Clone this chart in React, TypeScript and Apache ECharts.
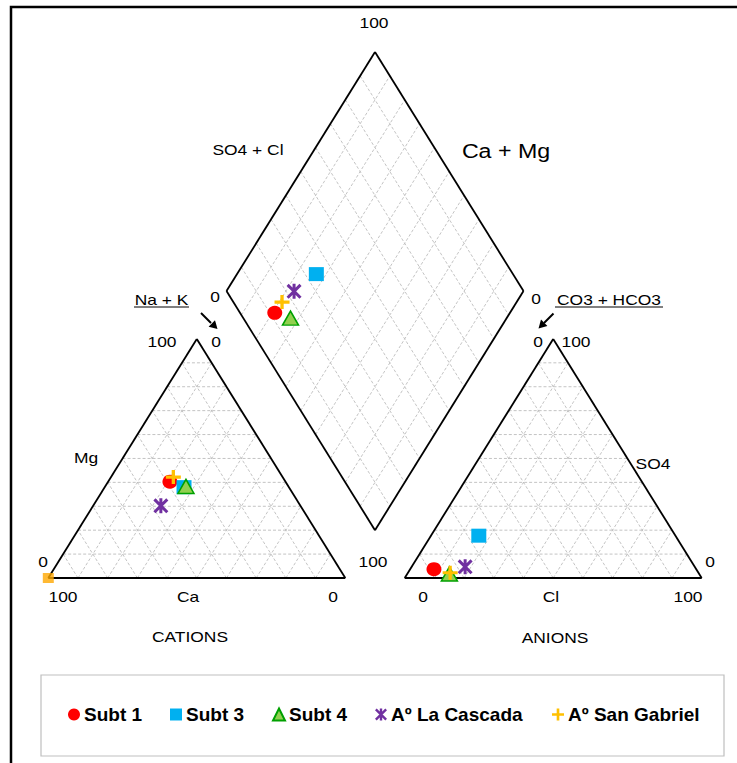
import React, { useEffect, useRef } from 'react';
import * as echarts from 'echarts';

// ---- data (percent of meq) ----
const sampleNames = ['Subt 1', 'Subt 3', 'Subt 4', 'Aº La Cascada', 'Aº San Gabriel'];
const caPct = [38.9, 35.3, 34.5, 47.0, 36.8];
const mgPct = [40.3, 38.0, 38.3, 30.2, 42.2];
const nakPct = [20.8, 26.7, 27.2, 22.8, 21.0];
const hco3Pct = [88.3, 66.2, 84.1, 77.3, 83.6];
const so4Pct = [3.7, 17.7, 1.7, 4.7, 2.2];
const clPct = [8.0, 16.1, 14.2, 18.0, 14.2];
// stray marker at the Ca corner [Ca, Mg, Na+K]
const cornerMarker = [100, 0, 0];
const gridSteps = [10, 20, 30, 40, 50, 60, 70, 80, 90];

const seriesColors = ['#FF0000', '#00B0F0', '#92D050', '#7030A0', '#FFC000'];

// ---- Piper geometry (100 = triangle side, gap 20) ----
const GAP = 20;
const H3 = Math.sqrt(3) / 2;
const cationXY = (ca: number, mg: number, nak: number) => [nak + mg / 2, mg * H3];
const anionXY = (hco3: number, so4: number, cl: number) => [100 + GAP + cl + so4 / 2, so4 * H3];
const diamondXY = (nak: number, hco3: number) => [
  (nak + 200 + GAP - hco3) / 2,
  (Math.sqrt(3) * (200 + GAP - hco3 - nak)) / 2,
];
const X_MAX = 200 + GAP;
const Y_MAX = Math.sqrt(3) * (100 + GAP / 2);

function seg(a: number[], b: number[]) {
  return [a[0], a[1], b[0], b[1]];
}

function buildOutline() {
  const s: number[][] = [];
  const c1 = cationXY(100, 0, 0), c2 = cationXY(0, 0, 100), c3 = cationXY(0, 100, 0);
  s.push(seg(c1, c2), seg(c2, c3), seg(c3, c1));
  const a1 = anionXY(100, 0, 0), a2 = anionXY(0, 0, 100), a3 = anionXY(0, 100, 0);
  s.push(seg(a1, a2), seg(a2, a3), seg(a3, a1));
  const B = diamondXY(100, 100), L = diamondXY(0, 100), T = diamondXY(0, 0), R = diamondXY(100, 0);
  s.push(seg(B, R), seg(R, T), seg(T, L), seg(L, B));
  return s;
}

function buildGrid() {
  const s: number[][] = [];
  gridSteps.forEach((k) => {
    // cation triangle
    s.push(seg(cationXY(100 - k, k, 0), cationXY(0, k, 100 - k)));
    s.push(seg(cationXY(k, 0, 100 - k), cationXY(k, 100 - k, 0)));
    s.push(seg(cationXY(100 - k, 0, k), cationXY(0, 100 - k, k)));
    // anion triangle
    s.push(seg(anionXY(100 - k, k, 0), anionXY(0, k, 100 - k)));
    s.push(seg(anionXY(k, 0, 100 - k), anionXY(k, 100 - k, 0)));
    s.push(seg(anionXY(100 - k, 0, k), anionXY(0, 100 - k, k)));
    // diamond
    s.push(seg(diamondXY(k, 100), diamondXY(k, 0)));
    s.push(seg(diamondXY(0, k), diamondXY(100, k)));
  });
  return s;
}

const symbols = [
  'circle',
  'rect',
  'triangle',
  'path://M40 0L60 0L60 100L40 100Z M14.1 0L100 85.9L85.9 100L0 14.1Z M85.9 0L100 14.1L14.1 100L0 85.9Z',
  'path://M39 0L61 0L61 39L100 39L100 61L61 61L61 100L39 100L39 61L0 61L0 39L39 39Z',
];
const symbolSizes: any[] = [[15, 14], [15, 14], [16, 14], [15, 15], [15, 14]];
const legendLeft = [68, 170, 272, 375, 552];

const FONT = 'Liberation Sans, Arial, sans-serif';
const SX = 1.16;

function txt(text: string, x: number, y: number, size = 15, extra: any = {}) {
  return {
    type: 'text',
    x,
    y,
    scaleX: SX,
    style: {
      text,
      fill: '#000',
      fontSize: size,
      fontFamily: FONT,
      align: 'center',
      verticalAlign: 'middle',
      ...extra,
    },
    z: 20,
  };
}

function lineG(x1: number, y1: number, x2: number, y2: number, w = 1) {
  return { type: 'line', shape: { x1, y1, x2, y2 }, style: { stroke: '#000', lineWidth: w }, z: 20 };
}

export default function App() {
  const ref = useRef<HTMLDivElement>(null);
  useEffect(() => {
    if (!ref.current) return;
    const chart = echarts.init(ref.current, undefined, { renderer: 'svg' });

    const lineRender = (color: string, width: number, dash: any) => (params: any, api: any) => {
      const p1 = api.coord([api.value(0), api.value(1)]);
      const p2 = api.coord([api.value(2), api.value(3)]);
      return {
        type: 'line',
        shape: { x1: p1[0], y1: p1[1], x2: p2[0], y2: p2[1] },
        style: { stroke: color, lineWidth: width, lineDash: dash, fill: 'none' },
      };
    };

    const scatterSeries = sampleNames.map((name, i) => ({
      type: 'scatter',
      name,
      symbol: symbols[i],
      symbolSize: symbolSizes[i],
      z: 10 + i,
      itemStyle:
        i === 2
          ? { color: seriesColors[i], borderColor: '#00A000', borderWidth: 1.5, opacity: 1 }
          : { color: seriesColors[i], opacity: 1 },
      data: [
        cationXY(caPct[i], mgPct[i], nakPct[i]),
        anionXY(hco3Pct[i], so4Pct[i], clPct[i]),
        diamondXY(nakPct[i], hco3Pct[i]),
      ],
    }));

    const option: any = {
      animation: false,
      grid: { left: 48.3, right: 35.3, top: 52, bottom: 185, containLabel: false },
      xAxis: { type: 'value', min: 0, max: X_MAX, show: false },
      yAxis: { type: 'value', min: 0, max: Y_MAX, show: false },
      legend: sampleNames.map((n, i) => ({
        data: [n],
        left: legendLeft[i],
        top: 705,
        padding: 0,
        itemWidth: 12,
        itemHeight: 12,
        itemGap: 0,
        selectedMode: false,
        textStyle: { fontSize: 19, fontWeight: 'bold', color: '#000', fontFamily: FONT, padding: [0, 0, 0, -1] },
      })),
      series: [
        {
          type: 'custom',
          name: 'grid',
          silent: true,
          z: 1,
          renderItem: lineRender('#BDBDBD', 0.9, [3, 2]),
          encode: { x: [0, 2], y: [1, 3] },
          data: buildGrid(),
        },
        {
          type: 'custom',
          name: 'outline',
          silent: true,
          z: 2,
          renderItem: lineRender('#000', 1.8, null),
          encode: { x: [0, 2], y: [1, 3] },
          data: buildOutline(),
        },
        {
          type: 'scatter',
          name: 'corner',
          symbol: 'rect',
          symbolSize: [11, 10],
          z: 9,
          itemStyle: { color: '#FFA800' },
          data: [cationXY(cornerMarker[0], cornerMarker[1], cornerMarker[2])],
        },
        ...scatterSeries,
      ],
      graphic: [
        {
          type: 'rect',
          shape: { x: 11, y: 7, width: 800, height: 800 },
          style: { fill: 'none', stroke: '#000', lineWidth: 2.5 },
          z: 0,
          silent: true,
        },
        {
          type: 'rect',
          shape: { x: 41, y: 675, width: 683, height: 81 },
          style: { fill: 'none', stroke: '#BFBFBF', lineWidth: 1.2 },
          z: 0,
          silent: true,
        },
        txt('100', 374, 22),
        txt('SO4 + Cl', 248, 149),
        txt('Ca + Mg', 506, 151, 20),
        txt('0', 215, 296),
        txt('0', 536, 298),
        txt('Na + K', 161.5, 299),
        lineG(134, 307, 189, 307, 1),
        txt('CO3 + HCO3', 609, 299),
        lineG(555, 307, 663, 307, 1),
        lineG(201, 313, 211, 323, 2),
        { type: 'polygon', shape: { points: [[217.5, 329], [208.6, 326.7], [215.0, 320.2]] }, style: { fill: '#000' }, z: 20 },
        lineG(553.5, 313.5, 544, 323, 2),
        { type: 'polygon', shape: { points: [[538.5, 328.5], [547.4, 326.0], [541.0, 319.6]] }, style: { fill: '#000' }, z: 20 },
        txt('100', 162, 341),
        txt('0', 216, 341),
        txt('0', 538, 341),
        txt('100', 576, 341),
        txt('Mg', 86, 457),
        txt('SO4', 653, 463),
        txt('0', 43, 561),
        txt('100', 373, 561),
        txt('0', 710, 561),
        txt('100', 63, 596),
        txt('Ca', 188, 596),
        txt('0', 333, 596),
        txt('0', 423, 596),
        txt('Cl', 551, 596),
        txt('100', 688, 596),
        txt('CATIONS', 190, 636),
        txt('ANIONS', 555, 637),
      ],
    };
    chart.setOption(option);
    return () => chart.dispose();
  }, []);
  return (
    <div
      ref={ref}
      style={{ position: 'absolute', left: 0, top: 0, width: 737, height: 763, background: '#fff' }}
    />
  );
}
